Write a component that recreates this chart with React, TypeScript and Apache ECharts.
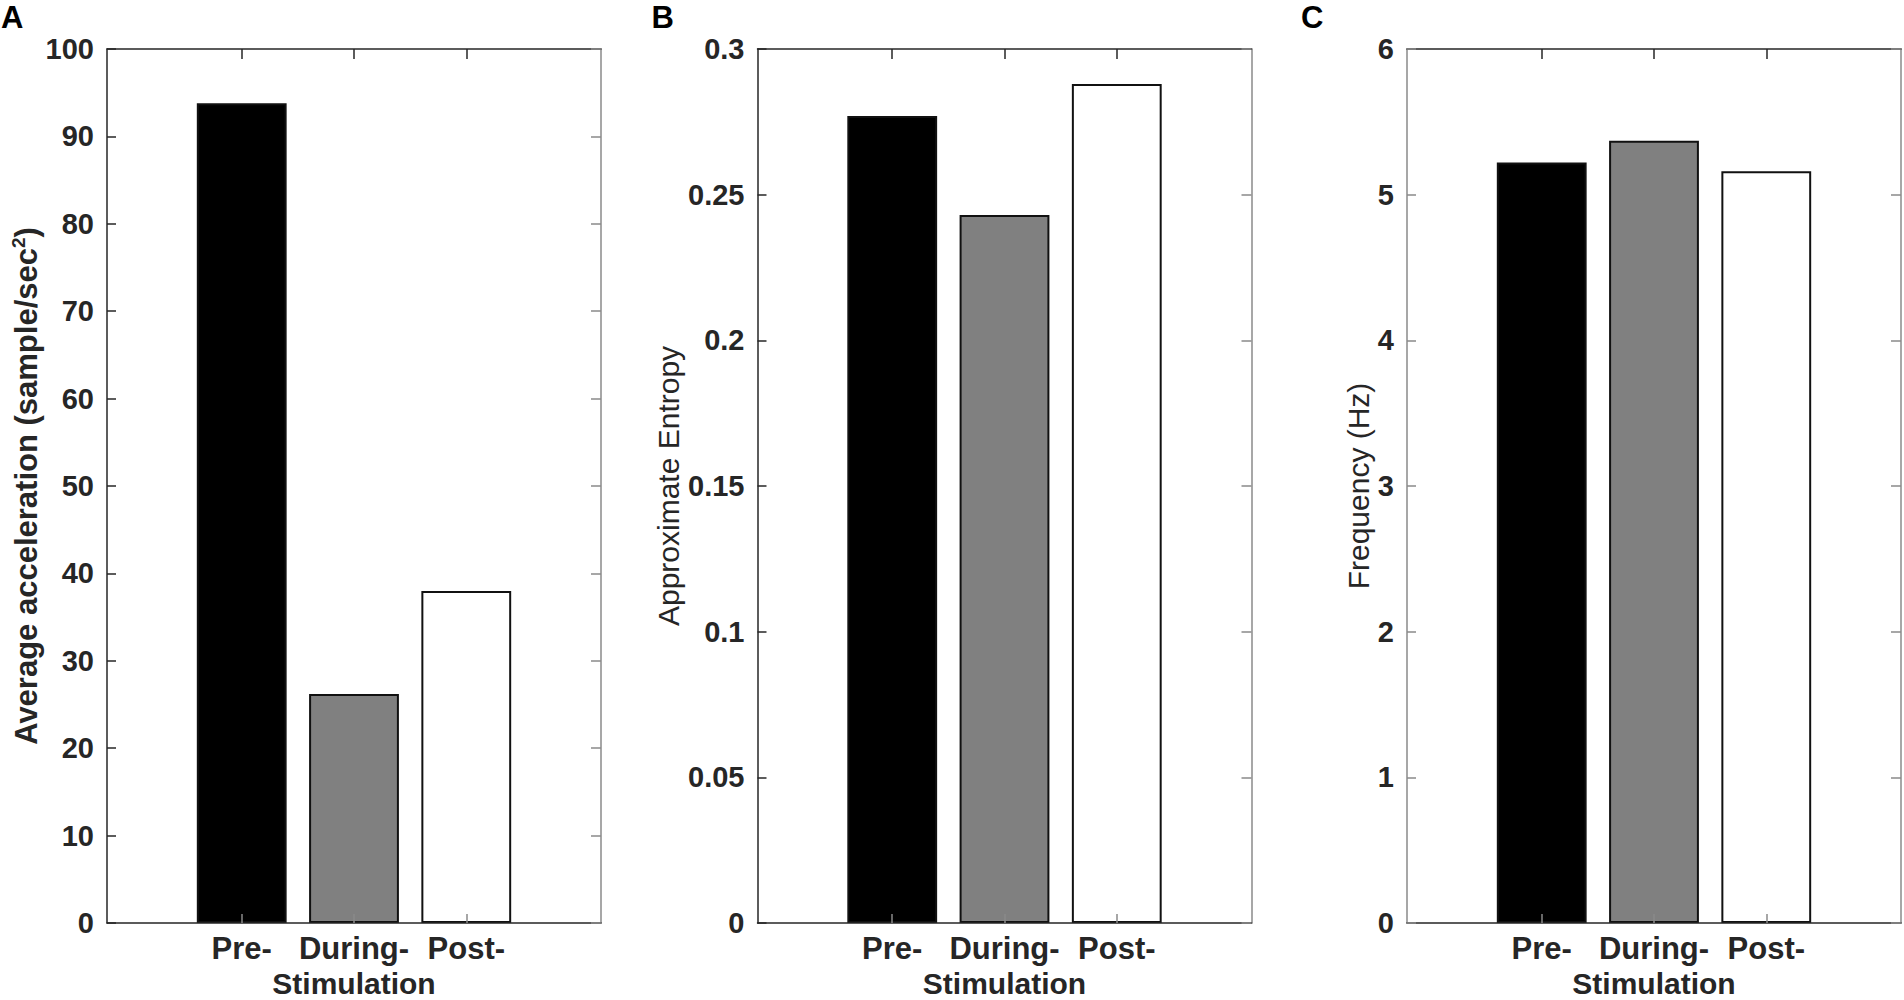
import React, { useEffect, useRef } from "react";
import * as echarts from "echarts";

const categories = ["Pre-", "During-", "Post-"];
const categoryPositions = [1, 2, 3];
const accelValues = [93.8, 26.2, 38.0];
const entropyValues = [0.277, 0.243, 0.288];
const freqValues = [5.22, 5.37, 5.16];
const barColors = ["#000000", "#808080", "#ffffff"];
const panelLetters = ["A", "B", "C"];
const yMaxes = [100, 0.3, 6];
const yIntervals = [10, 0.05, 1];
const yTitles = [
  "Average acceleration (sample/sec{sup|2})",
  "Approximate Entropy",
  "Frequency (Hz)",
];
const xTitle = "Stimulation";

const W = 1904;
const H = 1000;
const GRID_LEFTS = [107, 757.5, 1407];
const GRID_TOP = 49;
const GRID_W = 494;
const GRID_H = 874;
const X_MIN = -0.2;
const X_MAX = 4.2;
const FONT = "'Liberation Sans', Arial, Helvetica, sans-serif";
const DARK = "#262626";
const GRAY = "#8a8a8a";

export default function App() {
  const ref = useRef<HTMLDivElement>(null);
  useEffect(() => {
    document.body.style.margin = "0";
    if (!ref.current) return;
    const chart = echarts.init(ref.current, null, { renderer: "svg" });
    const seriesValues = [accelValues, entropyValues, freqValues];
    const barWidth = (GRID_W / (X_MAX - X_MIN)) * 0.8;

    const grid: any[] = [];
    const xAxis: any[] = [];
    const yAxis: any[] = [];
    const series: any[] = [];
    const graphic: any[] = [];

    const yTitleCfg = [
      { gap: 62, weight: "bold", size: 31 },
      { gap: 74, weight: "normal", size: 30 },
      { gap: 33, weight: "normal", size: 30 },
    ];
    const leftAxisColor = [DARK, DARK, GRAY];

    for (let p = 0; p < 3; p++) {
      grid.push({
        left: GRID_LEFTS[p],
        top: GRID_TOP,
        width: GRID_W,
        height: GRID_H,
        containLabel: false,
        outerBoundsMode: "none",
      });
      // bottom x axis
      xAxis.push({
        type: "value",
        gridIndex: p,
        position: "bottom",
        min: X_MIN,
        max: X_MAX,
        z: 5,
        name: xTitle,
        nameLocation: "middle",
        nameGap: 38,
        nameTextStyle: { fontFamily: FONT, fontSize: 30, fontWeight: "bold", color: DARK, lineHeight: 30 },
        axisLine: { show: true, onZero: false, lineStyle: { color: DARK, width: 1.5 } },
        axisTick: {
          show: true,
          inside: true,
          length: 9,
          customValues: categoryPositions,
          lineStyle: { color: GRAY, width: 1.5 },
        },
        axisLabel: {
          show: true,
          customValues: categoryPositions,
          margin: 10,
          fontFamily: FONT,
          fontSize: 31,
          fontWeight: "bold",
          color: DARK,
          formatter: (v: number) => categories[categoryPositions.indexOf(v)] ?? "",
        },
        splitLine: { show: false },
      });
      // top x axis (box)
      xAxis.push({
        type: "value",
        gridIndex: p,
        position: "top",
        min: X_MIN,
        max: X_MAX,
        z: 5,
        axisLine: { show: true, onZero: false, lineStyle: { color: DARK, width: 1.5 } },
        axisTick: {
          show: true,
          inside: true,
          length: 10,
          customValues: categoryPositions,
          lineStyle: { color: DARK, width: 1.5 },
        },
        axisLabel: { show: false },
        splitLine: { show: false },
      });
      // left y axis
      yAxis.push({
        type: "value",
        gridIndex: p,
        position: "left",
        min: 0,
        max: yMaxes[p],
        interval: yIntervals[p],
        z: 5,
        name: yTitles[p],
        nameLocation: "middle",
        nameGap: yTitleCfg[p].gap,
        nameTextStyle: {
          fontFamily: FONT,
          fontSize: yTitleCfg[p].size,
          fontWeight: yTitleCfg[p].weight,
          color: DARK,
          rich: {
            sup: {
              fontFamily: FONT,
              fontSize: 19,
              fontWeight: "bold",
              color: DARK,
              padding: [0, 0, 16, 0],
            },
          },
        },
        axisLine: { show: true, onZero: false, lineStyle: { color: leftAxisColor[p], width: 1.5 } },
        axisTick: { show: true, inside: true, length: 9, lineStyle: { color: leftAxisColor[p], width: 1.5 } },
        axisLabel: {
          show: true,
          margin: 13,
          fontFamily: FONT,
          fontSize: 29,
          fontWeight: "bold",
          color: DARK,
        },
        splitLine: { show: false },
      });
      // right y axis (box)
      yAxis.push({
        type: "value",
        gridIndex: p,
        position: "right",
        min: 0,
        max: yMaxes[p],
        interval: yIntervals[p],
        z: 5,
        axisLine: { show: true, onZero: false, lineStyle: { color: GRAY, width: 1.5 } },
        axisTick: { show: true, inside: true, length: 10, lineStyle: { color: GRAY, width: 1.5 } },
        axisLabel: { show: false },
        splitLine: { show: false },
      });

      series.push({
        type: "bar",
        xAxisIndex: p * 2,
        yAxisIndex: p * 2,
        barWidth,
        data: seriesValues[p].map((v, i) => ({
          value: [categoryPositions[i], v],
          itemStyle: { color: barColors[i], borderColor: "#111111", borderWidth: 2 },
        })),
      });

      graphic.push({
        type: "text",
        left: GRID_LEFTS[p] - 106,
        top: 2,
        style: {
          text: panelLetters[p],
          fontFamily: FONT,
          fontSize: 31,
          fontWeight: "bold",
          fill: "#000000",
        },
      });
    }

    chart.setOption({
      animation: false,
      backgroundColor: "#ffffff",
      grid,
      xAxis,
      yAxis,
      series,
      graphic,
    });
    return () => chart.dispose();
  }, []);
  return <div ref={ref} style={{ width: W, height: H }} />;
}
